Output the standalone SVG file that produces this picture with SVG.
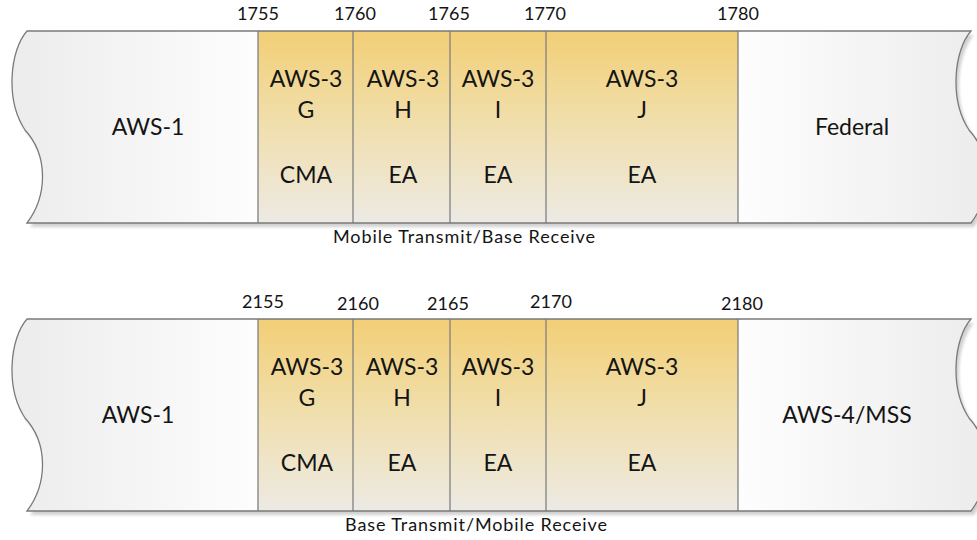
<svg xmlns="http://www.w3.org/2000/svg" width="977" height="540" viewBox="0 0 977 540">
<defs>
<linearGradient id="gray" x1="0" y1="0" x2="1" y2="0">
<stop offset="0" stop-color="#ECECEC"/>
<stop offset="0.25" stop-color="#FDFDFD"/>
<stop offset="0.75" stop-color="#FDFDFD"/>
<stop offset="1" stop-color="#ECECEC"/>
</linearGradient>
<linearGradient id="gold" x1="0" y1="0" x2="0" y2="1">
<stop offset="0" stop-color="#F2CF76"/>
<stop offset="0.5" stop-color="#F0DFAE"/>
<stop offset="1" stop-color="#EDEAE4"/>
</linearGradient>
<filter id="sh" x="-5%" y="-5%" width="110%" height="120%">
<feGaussianBlur stdDeviation="1.5"/>
</filter>
<path id="band" d="M27,31 L971,31 C954,50 949,100 969,130 C992,155 992,195 971,223 L27,223 C48,195 48,155 25,130 C5,100 10,50 27,31 Z"/>
</defs>
<style>
.t{font-family:Lato,"Open Sans","Liberation Sans",sans-serif;fill:#141414;text-anchor:middle}
.big{font-size:23px}
.num{font-size:18px}
.cap{font-size:18px}
.div{stroke:#808080;stroke-width:1.3;fill:none}
.out{stroke:#7A7A7A;stroke-width:1.3;fill:none}
</style>

<g id="band-top">
<use href="#band" transform="translate(3,4)" fill="#000" opacity="0.18" filter="url(#sh)"/>
<use href="#band" fill="url(#gray)"/>
<rect x="258" y="31" width="480" height="192" fill="url(#gold)"/>
<line class="div" x1="258" y1="31" x2="258" y2="223"/>
<line class="div" x1="353" y1="31" x2="353" y2="223"/>
<line class="div" x1="450" y1="31" x2="450" y2="223"/>
<line class="div" x1="546" y1="31" x2="546" y2="223"/>
<line class="div" x1="738" y1="31" x2="738" y2="223"/>
<use href="#band" class="out"/>
</g>
<g id="top-aws1"><text class="t big" x="148" y="135">AWS-1</text></g>
<g id="top-g"><text class="t big" x="306" y="87">AWS-3</text><text class="t big" x="306" y="118">G</text><text class="t big" x="306" y="183">CMA</text></g>
<g id="top-h"><text class="t big" x="403" y="87">AWS-3</text><text class="t big" x="403" y="118">H</text><text class="t big" x="403" y="183">EA</text></g>
<g id="top-i"><text class="t big" x="498" y="87">AWS-3</text><text class="t big" x="498" y="118">I</text><text class="t big" x="498" y="183">EA</text></g>
<g id="top-j"><text class="t big" x="642" y="87">AWS-3</text><text class="t big" x="642" y="118">J</text><text class="t big" x="642" y="183">EA</text></g>
<g id="top-federal"><text class="t big" x="852" y="135">Federal</text></g>
<g id="top-labels">
<text class="t num" x="258" y="20">1755</text>
<text class="t num" x="355" y="20">1760</text>
<text class="t num" x="449" y="20">1765</text>
<text class="t num" x="545" y="20">1770</text>
<text class="t num" x="738" y="20">1780</text>
<text class="t cap" x="464" y="243" textLength="262" lengthAdjust="spacing">Mobile Transmit/Base Receive</text>
</g>

<g id="band-bottom" transform="translate(0,288)">
<use href="#band" transform="translate(3,4)" fill="#000" opacity="0.18" filter="url(#sh)"/>
<use href="#band" fill="url(#gray)"/>
<rect x="258" y="31" width="480" height="192" fill="url(#gold)"/>
<line class="div" x1="258" y1="31" x2="258" y2="223"/>
<line class="div" x1="353" y1="31" x2="353" y2="223"/>
<line class="div" x1="450" y1="31" x2="450" y2="223"/>
<line class="div" x1="546" y1="31" x2="546" y2="223"/>
<line class="div" x1="738" y1="31" x2="738" y2="223"/>
<use href="#band" class="out"/>
</g>
<g id="bot-aws1"><text class="t big" x="138" y="423">AWS-1</text></g>
<g id="bot-g"><text class="t big" x="307" y="375">AWS-3</text><text class="t big" x="307" y="406">G</text><text class="t big" x="307" y="471">CMA</text></g>
<g id="bot-h"><text class="t big" x="402" y="375">AWS-3</text><text class="t big" x="402" y="406">H</text><text class="t big" x="402" y="471">EA</text></g>
<g id="bot-i"><text class="t big" x="498" y="375">AWS-3</text><text class="t big" x="498" y="406">I</text><text class="t big" x="498" y="471">EA</text></g>
<g id="bot-j"><text class="t big" x="642" y="375">AWS-3</text><text class="t big" x="642" y="406">J</text><text class="t big" x="642" y="471">EA</text></g>
<g id="bot-aws4"><text class="t big" x="847" y="423">AWS-4/MSS</text></g>
<g id="bot-labels">
<text class="t num" x="263" y="308">2155</text>
<text class="t num" x="358" y="310">2160</text>
<text class="t num" x="448" y="310">2165</text>
<text class="t num" x="551" y="308">2170</text>
<text class="t num" x="742" y="310">2180</text>
<text class="t cap" x="476" y="531" textLength="262" lengthAdjust="spacing">Base Transmit/Mobile Receive</text>
</g>
</svg>
